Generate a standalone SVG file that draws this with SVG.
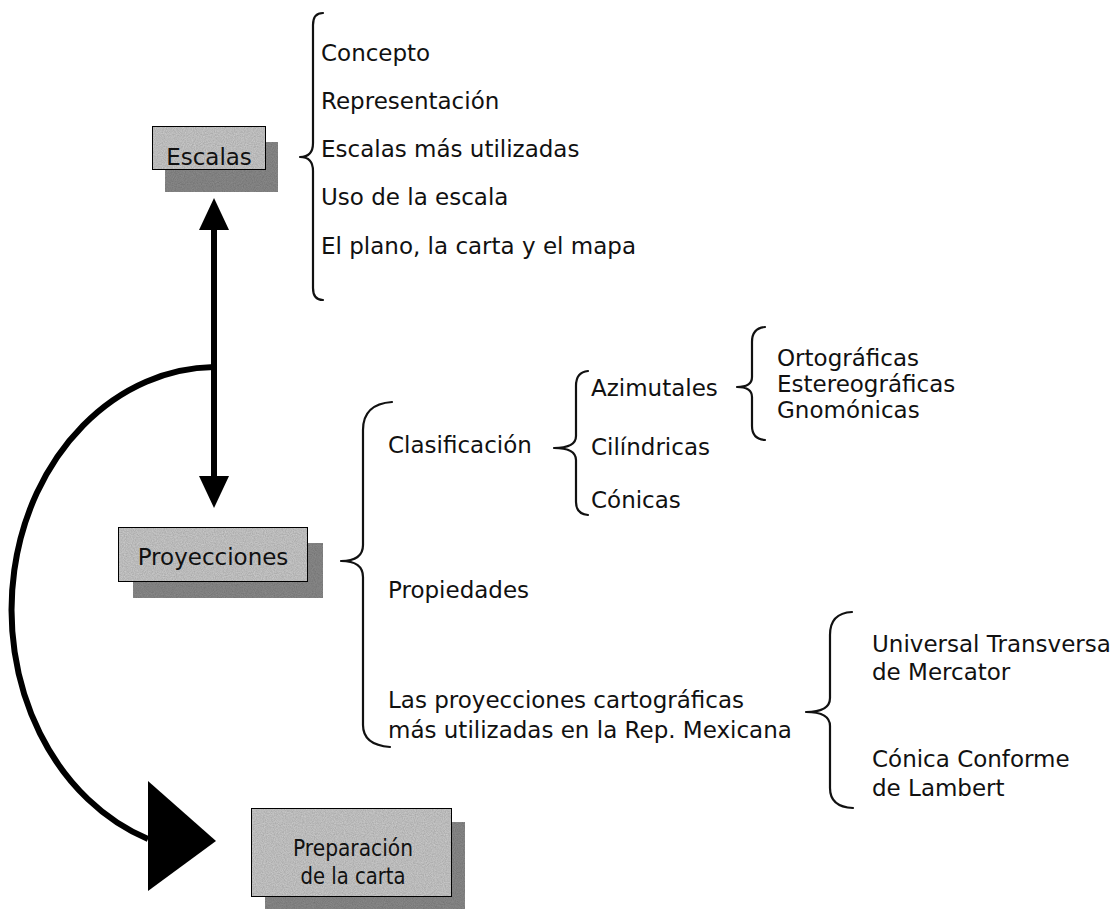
<svg xmlns="http://www.w3.org/2000/svg" width="1120" height="909" viewBox="0 0 1120 909">
<defs>
<style>
.t{font-family:"DejaVu Sans","Verdana",sans-serif;font-size:23px;fill:#111}
.bt{font-family:"DejaVu Sans","Verdana",sans-serif;font-size:23px;fill:#111;text-anchor:middle}
.bt2{font-family:"DejaVu Sans","Verdana",sans-serif;font-size:23px;fill:#111;text-anchor:middle}
.brace{fill:none;stroke:#111;stroke-width:2.2;stroke-linecap:round;stroke-linejoin:round}
.front{fill:#cbcbcb;stroke:#111;stroke-width:2}
.shadow{fill:#8c8c8c}
.conn{fill:none;stroke:#000;stroke-width:6}
</style>
<filter id="noise" x="0" y="0" width="100%" height="100%">
<feTurbulence type="fractalNoise" baseFrequency="0.9" numOctaves="2" seed="3" result="n"/>
<feColorMatrix in="n" type="matrix" values="0 0 0 0 0  0 0 0 0 0  0 0 0 0 0  0 0 0 0.45 -0.05" result="m"/>
<feComposite in="m" in2="SourceGraphic" operator="in" result="c"/>
<feMerge><feMergeNode in="SourceGraphic"/><feMergeNode in="c"/></feMerge>
</filter>
</defs>
<rect width="1120" height="909" fill="#fff"/>

<g id="connectors">
<line class="conn" x1="214" y1="228" x2="214" y2="480"/>
<polygon points="214,198 199,230 229,230" fill="#000"/>
<polygon points="214,508 199,476 229,476" fill="#000"/>
<path class="conn" d="M214,367 A205,243 0 0 0 148,839"/>
<polygon points="148,781 148,891 216,841" fill="#000"/>
</g>

<g id="escalas">
<rect class="shadow" x="165" y="142" width="113" height="50" filter="url(#noise)"/>
<rect class="front" x="152" y="126" width="114" height="44" filter="url(#noise)"/>
<text class="bt" x="209" y="165">Escalas</text>
</g>

<g id="escalas-items">
<path class="brace" d="M323,13 Q313,13 313,25 L313,143 Q313,157 300,157 Q313,157 313,171 L313,288 Q313,300 323,300"/>
<text class="t" x="321" y="61">Concepto</text>
<text class="t" x="321" y="109">Representación</text>
<text class="t" x="321" y="157">Escalas más utilizadas</text>
<text class="t" x="321" y="205">Uso de la escala</text>
<text class="t" x="321" y="254">El plano, la carta y el mapa</text>
</g>

<g id="proyecciones">
<rect class="shadow" x="133" y="543" width="190" height="55" filter="url(#noise)"/>
<rect class="front" x="118" y="527" width="190" height="55" filter="url(#noise)"/>
<text class="bt" x="213" y="565">Proyecciones</text>
</g>

<g id="proyecciones-items">
<path class="brace" d="M392,402 Q363,404 363,430 L363,545 Q363,561 341,561 Q363,561 363,577 L363,725 Q363,745 390,747"/>
<text class="t" x="388" y="453">Clasificación</text>
<text class="t" x="388" y="598">Propiedades</text>
<text class="t" x="388" y="708">Las proyecciones cartográficas</text>
<text class="t" x="388" y="738">más utilizadas en la Rep. Mexicana</text>
</g>

<g id="clasificacion-items">
<path class="brace" d="M588,371 Q576,372 576,386 L576,436 Q576,448 554,448 Q576,448 576,460 L576,502 Q576,514 588,515"/>
<text class="t" x="591" y="396">Azimutales</text>
<text class="t" x="591" y="455">Cilíndricas</text>
<text class="t" x="591" y="508">Cónicas</text>
</g>

<g id="azimutales-items">
<path class="brace" d="M765,327 Q752,328 752,342 L752,377 Q752,387 737,387 Q752,387 752,397 L752,426 Q752,439 765,440"/>
<text class="t" x="777" y="366">Ortográficas</text>
<text class="t" x="777" y="392">Estereográficas</text>
<text class="t" x="777" y="418">Gnomónicas</text>
</g>

<g id="rep-items">
<path class="brace" d="M852,612 Q830,613 830,635 L830,698 Q830,712 806,712 Q830,712 830,726 L830,788 Q830,807 853,808"/>
<text class="t" x="872" y="652">Universal Transversa</text>
<text class="t" x="872" y="680">de Mercator</text>
<text class="t" x="872" y="767">Cónica Conforme</text>
<text class="t" x="872" y="796">de Lambert</text>
</g>

<g id="preparacion">
<rect class="shadow" x="265" y="822" width="200" height="87" filter="url(#noise)"/>
<rect class="front" x="251" y="808" width="201" height="89" filter="url(#noise)"/>
<text class="bt2" x="353" y="856" textLength="120" lengthAdjust="spacingAndGlyphs">Preparación</text>
<text class="bt2" x="353" y="884" textLength="105" lengthAdjust="spacingAndGlyphs">de la carta</text>
</g>
</svg>
